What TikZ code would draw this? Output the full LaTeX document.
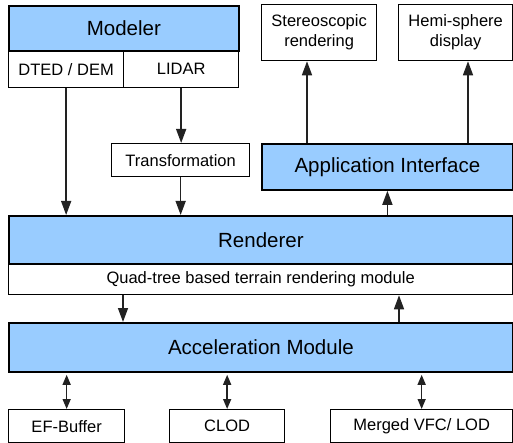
\documentclass[tikz,border=0pt]{standalone}
\usepackage{fontspec}
\setmainfont{Liberation Sans}
\usetikzlibrary{arrows.meta,positioning}
\definecolor{boxblue}{HTML}{99CCFF}
\definecolor{linegray}{HTML}{222222}
\tikzset{
  box/.style={draw=black, line width=1.3pt, fill=white, inner sep=0pt, anchor=north west, align=center, font=\fontsize{16.5}{20}\selectfont},
  bluebox/.style={box, fill=boxblue, line width=1.8pt, font=\fontsize{20.5}{24}\selectfont},
  arr/.style={draw=linegray, line width=1.5pt, -{Triangle[length=14pt,width=10pt]}},
  darr/.style={draw=linegray, line width=1.5pt, {Triangle[length=10pt,width=8pt]}-{Triangle[length=10pt,width=8pt]}, shorten <=2pt},
}
\begin{document}
\begin{tikzpicture}[x=1pt,y=-1pt]
\useasboundingbox (0,0) rectangle (513,443);
% top left
\node[box, minimum width=115pt, minimum height=37pt] (dted) at (8,50) {DTED / DEM};
\node[box, minimum width=115pt, minimum height=37pt] (lidar) at (123,50) {LIDAR};
\node[bluebox, minimum width=230pt, minimum height=45pt] (mod) at (8,5) {Modeler};
\node[box, minimum width=138pt, minimum height=33pt] (trans) at (111,143) {Transformation};
% top right
\node[box, minimum width=115pt, minimum height=56pt] (stereo) at (261,4) {Stereoscopic\\rendering};
\node[box, minimum width=114pt, minimum height=56pt] (hemi) at (398,4) {Hemi-sphere\\display};
\node[bluebox, minimum width=251pt, minimum height=46pt] (app) at (261,143) {Application Interface};
% renderer
\node[box, minimum width=504pt, minimum height=31pt] (quad) at (8,263) {Quad-tree based terrain rendering module};
\node[bluebox, minimum width=504pt, minimum height=48pt] (rend) at (8,215) {Renderer};
% acceleration
\node[bluebox, minimum width=504pt, minimum height=49pt] (acc) at (8,322) {Acceleration Module};
% bottom boxes
\node[box, minimum width=116pt, minimum height=33pt] (ef) at (8,409) {EF-Buffer};
\node[box, minimum width=115pt, minimum height=33pt] (clod) at (169,409) {CLOD};
\node[box, minimum width=182pt, minimum height=33pt] (merged) at (330,409) {Merged VFC/ LOD};
% helper coordinates
\coordinate (xs) at (307,0);
\coordinate (xh) at (468,0);
\coordinate (xd) at (123,0);
\coordinate (xu) at (399,0);
% arrows
\draw[arr] (dted.south) -- (dted.south |- rend.north);
\draw[arr] (lidar.south) -- (lidar.south |- trans.north);
\draw[arr] (trans.south) -- (trans.south |- rend.north);
\draw[arr] (app.north -| xs) -- (stereo.south -| xs);
\draw[arr] (app.north -| xh) -- (hemi.south -| xh);
\draw[arr] (rend.north -| app.south) -- (app.south);
\draw[arr] (quad.south -| xd) -- (acc.north -| xd);
\draw[arr] (acc.north -| xu) -- (quad.south -| xu);
\draw[darr] (acc.south -| ef.north) -- (ef.north);
\draw[darr] (acc.south -| clod.north) -- (clod.north);
\draw[darr] (acc.south -| merged.north) -- (merged.north);
\end{tikzpicture}
\end{document}
